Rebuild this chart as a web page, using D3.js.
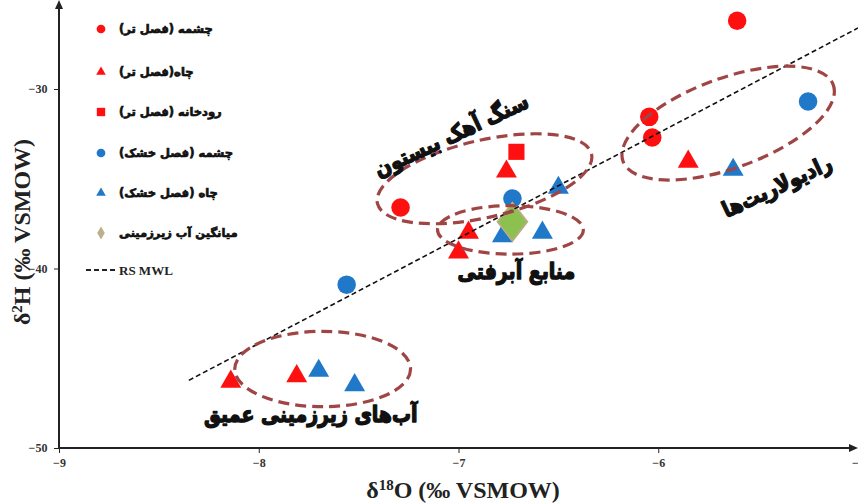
<!DOCTYPE html>
<html><head><meta charset="utf-8">
<script src="https://cdn.jsdelivr.net/npm/d3@7"></script>
<style>body{margin:0;background:#fff}svg{display:block}</style>
</head><body>
<svg id="c" width="858" height="503"></svg>
<script>
// ---- data ----
const springWet = [[-5.605,-26.2],[-6.045,-31.55],[-6.03,-32.7],[-7.29,-36.6]];
const wellWet = [[-5.85,-34.05],[-6.76,-34.6],[-6.95,-38.0],[-7.0,-39.1],[-8.14,-46.3],[-7.81,-46.0]];
const riverWet = [[-6.71,-33.5]];
const springDry = [[-5.25,-30.7],[-6.73,-36.1],[-7.56,-40.9]];
const wellDry = [[-5.625,-34.5],[-6.50,-35.5],[-6.78,-38.2],[-6.58,-38.0],[-7.70,-45.7],[-7.52,-46.5]];
const gwMean = [[-6.73,-37.4]];
const mwlCoef = [5.86, 2.7];
const mwlRange = [-8.35, -5.0];
const xTicks = [-9,-8,-7,-6,-5];
const yTicks = [-50,-40,-30];
const legendLabels = ["چشمه (فصل تر)","چاه(فصل تر)","رودخانه (فصل تر)","چشمه (فصل خشک)","چاه (فصل خشک)","میانگین آب زیرزمینی","RS MWL"];
// groups: label, center(x,y value), rx, ry (in value units), rotation deg
const groups = [
  {name:"آب‌های زیرزمینی عمیق", c:[-7.68,-45.6], rx:0.44, ry:2.1, rot:0, lab:[-7.74,-48.55], lrot:0},
  {name:"سنگ آهک بیستون", c:[-6.87,-35.0], rx:0.55, ry:2.15, rot:-13, lab:[-7.02,-32.95], lrot:-25},
  {name:"منابع آبرفتی", c:[-6.74,-37.85], rx:0.365, ry:1.35, rot:0, lab:[-6.71,-40.6], lrot:0},
  {name:"رادیولاریت‌ها", c:[-5.65,-31.9], rx:0.56, ry:2.5, rot:-20, lab:[-5.39,-35.8], lrot:-25}
];

const svg = d3.select("#c");
const x = d3.scaleLinear().domain([-9,-5]).range([59,858]);
const y = d3.scaleLinear().domain([-50,-30]).range([448,89]);
const red = "#ff1010", blue = "#1f78c8";
const serif = "'Liberation Serif','Times New Roman',serif";
const fa = "'DejaVu Sans',sans-serif";

// axes
const ax = svg.append("g").attr("transform","translate(0,448)")
  .call(d3.axisBottom(x).tickValues(xTicks).tickSize(5).tickFormat(d3.format("d")));
ax.select(".domain").remove();
ax.selectAll("line").attr("y2",5).attr("stroke","#222");
ax.selectAll("text").attr("font-family",serif).attr("font-weight","bold").attr("font-size",12).attr("fill","#333").attr("dy","0.9em");
const ay = svg.append("g").attr("transform","translate(59,0)")
  .call(d3.axisLeft(y).tickValues(yTicks).tickSize(5).tickFormat(d3.format("d")));
ay.select(".domain").remove();
ay.selectAll("line").attr("stroke","#222");
ay.selectAll("text").attr("font-family",serif).attr("font-weight","bold").attr("font-size",12).attr("fill","#333").attr("dx","-0.3em");
svg.append("line").attr("x1",59).attr("x2",854).attr("y1",448).attr("y2",448).attr("stroke","#222").attr("stroke-width",2);
svg.append("path").attr("d","M858,448 L849,444 L849,452 Z").attr("fill","#222");
svg.append("line").attr("x1",59).attr("x2",59).attr("y1",448).attr("y2",4).attr("stroke","#222").attr("stroke-width",2);
svg.append("path").attr("d","M59,0 L55,9 L63,9 Z").attr("fill","#222");

// axis titles
svg.append("text").attr("x",463).attr("y",498).attr("text-anchor","middle")
  .attr("font-family",serif).attr("font-weight","bold").attr("font-size",24).attr("fill","#222")
  .html('δ<tspan baseline-shift="super" font-size="15">18</tspan>O (‰ VSMOW)');
svg.append("text").attr("transform","translate(30,232) rotate(-90)").attr("text-anchor","middle")
  .attr("font-family",serif).attr("font-weight","bold").attr("font-size",24).attr("fill","#222")
  .html('δ<tspan baseline-shift="super" font-size="15">2</tspan>H (‰ VSMOW)');

// symbols
const sym = (type,size) => d3.symbol().type(type).size(size)();
function plot(data,type,size,fill,stroke){
  svg.append("g").selectAll("path").data(data).join("path")
    .attr("d",sym(type,size)).attr("fill",fill).attr("stroke",stroke||"none")
    .attr("transform",d=>`translate(${x(d[0])},${y(d[1])})`);
}
plot(springWet,d3.symbolCircle,270,red);
plot(wellWet,d3.symbolTriangle,190,red);
plot(riverWet,d3.symbolSquare,260,red);
plot(springDry,d3.symbolCircle,270,blue);
plot(wellDry,d3.symbolTriangle,190,blue);
svg.append("g").selectAll("path").data(gwMean).join("path")
  .attr("d",sym(d3.symbolDiamond,420)).attr("fill","#8cc152").attr("stroke","#b8ae80").attr("stroke-width",1.5)
  .attr("transform",d=>`translate(${x(d[0])},${y(d[1])}) scale(1.35,1)`);

// MWL
svg.append("line").attr("x1",x(mwlRange[0])).attr("y1",y(mwlCoef[0]*mwlRange[0]+mwlCoef[1]))
  .attr("x2",x(mwlRange[1])).attr("y2",y(mwlCoef[0]*mwlRange[1]+mwlCoef[1]))
  .attr("stroke","#111").attr("stroke-width",1.6).attr("stroke-dasharray","5,3");

// ellipses and labels
const pxU = x(1)-x(0), pyU = y(0)-y(1);
groups.forEach(g=>{
  svg.append("ellipse").attr("cx",0).attr("cy",0).attr("rx",g.rx*pxU).attr("ry",g.ry*pyU)
    .attr("transform",`translate(${x(g.c[0])},${y(g.c[1])}) rotate(${g.rot})`)
    .attr("fill","none").attr("stroke","#a04545").attr("stroke-width",3.2).attr("stroke-dasharray","11,6");
  svg.append("text").attr("transform",`translate(${x(g.lab[0])},${y(g.lab[1])}) rotate(${g.lrot}) scale(0.86,1)`)
    .attr("text-anchor","middle").attr("font-family",fa).attr("font-weight","bold").attr("font-size",22)
    .attr("fill","#111").attr("stroke","#111").attr("stroke-width",1.4).attr("stroke-linejoin","round").text(g.name);
});

// legend
const lg = svg.append("g");
const lShapes = [[d3.symbolCircle,red,60],[d3.symbolTriangle,red,40],[d3.symbolSquare,red,70],[d3.symbolCircle,blue,60],[d3.symbolTriangle,blue,40],[d3.symbolDiamond,"#bcb08a",50]];
const lY = [29,72,112,153,193,233,270];
lShapes.forEach((s,i)=>{
  lg.append("path").attr("d",sym(s[0],s[2])).attr("fill",s[1]).attr("transform",`translate(101,${lY[i]})`);
  lg.append("text").attr("x",119).attr("y",lY[i]+4).attr("font-family",fa).attr("font-weight","bold")
    .attr("font-size",11.5).attr("fill","#111").attr("stroke","#111").attr("stroke-width",0.7).text(legendLabels[i]);
});
lg.append("line").attr("x1",86).attr("x2",117).attr("y1",lY[6]).attr("y2",lY[6]).attr("stroke","#222").attr("stroke-width",2).attr("stroke-dasharray","5,3");
lg.append("text").attr("x",119).attr("y",lY[6]+5).attr("font-family",serif).attr("font-weight","bold")
  .attr("font-size",13).attr("fill","#222").text(legendLabels[6]);
</script>
</body></html>
